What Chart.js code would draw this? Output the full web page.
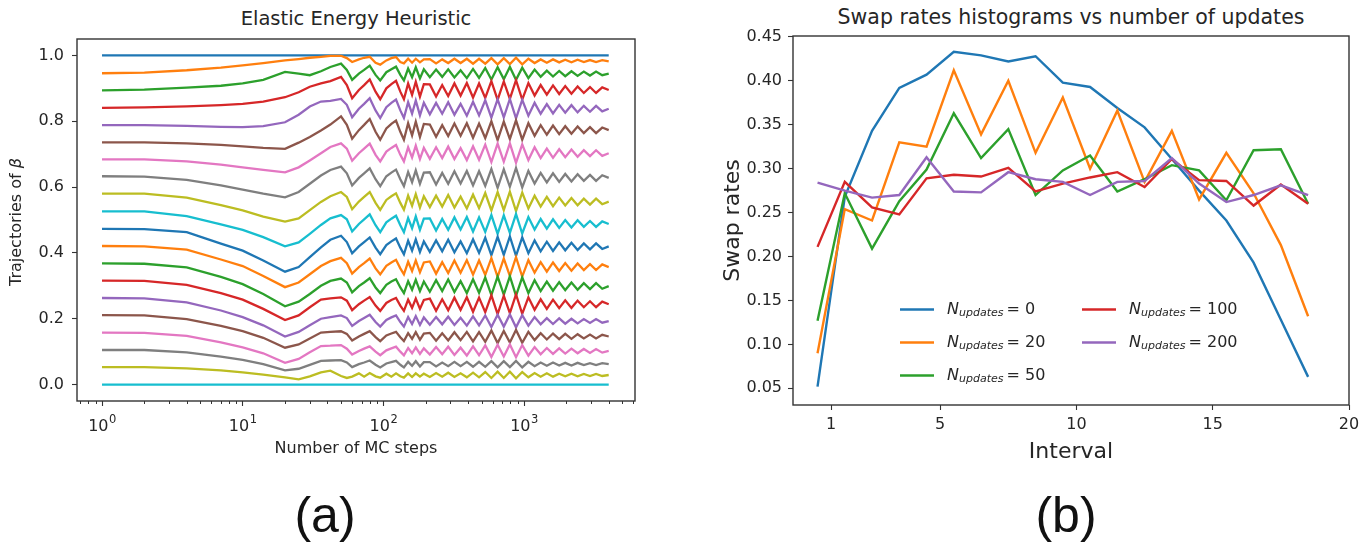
<!DOCTYPE html>
<html>
<head>
<meta charset="utf-8">
<script src="https://cdn.jsdelivr.net/npm/chart.js@4.4.1/dist/chart.umd.min.js"></script>
<style>
  body { margin: 0; background: #fff; width: 1370px; height: 543px; position: relative; overflow: hidden; font-family: 'DejaVu Sans', sans-serif; }
  .box { position: absolute; }
  .title { position: absolute; color: #262626; white-space: nowrap; transform: translate(-50%, -50%); }
  .panel { position: absolute; font-family: 'Liberation Sans', Arial, sans-serif; font-size: 50px; color: #111; transform: translate(-50%, -50%); }
</style>
</head>
<body>
<div class="title" style="left:356px;top:18px;font-size:19.5px">Elastic Energy Heuristic</div>
<div class="title" style="left:1071px;top:17px;font-size:20.5px">Swap rates histograms vs number of updates</div>
<div class="box" style="left:0;top:0;width:660px;height:470px"><canvas id="chartA" width="660" height="470"></canvas></div>
<div class="box" style="left:690px;top:0;width:680px;height:470px"><canvas id="chartB" width="680" height="470"></canvas></div>
<div class="panel" style="left:325px;top:515px">(a)</div>
<div class="panel" style="left:1066px;top:515px">(b)</div>
<script>
    // ---- panel (a): trajectories of beta vs MC steps ----
    const mcSteps = [1, 2, 4, 7, 10, 14, 20, 25, 30, 36, 42,
        50, 55, 60, 67, 73, 80, 88, 95, 105, 114, 123, 132, 140, 150, 160, 170, 182, 194,
        214, 237, 262, 289, 320, 354, 392, 434, 479, 530, 586, 649, 718, 793, 877, 971,
        1074, 1189, 1313, 1452, 1607, 1778, 1963, 2173, 2404, 2661, 2944, 3251, 3597, 4000];
    const edgeSteps = [1, 4000];

    const betaTop = [1.0, 1.0];
    const beta01 = [0.946, 0.948, 0.955, 0.963, 0.970, 0.977, 0.985, 0.989, 0.993, 0.996, 0.999,
        0.999, 0.992, 0.980, 0.988, 0.993, 0.996, 0.978, 0.972, 0.985, 0.992, 0.995, 0.980, 0.976, 0.990, 0.978, 0.990, 0.979, 0.988,
        0.989, 0.976, 0.988, 0.977, 0.990, 0.977, 0.990, 0.975, 0.990, 0.975, 0.992, 0.973, 0.992, 0.974, 0.993, 0.973, 0.990, 0.977, 0.988, 0.978, 0.988, 0.979, 0.987, 0.979, 0.987, 0.980, 0.986, 0.980, 0.986, 0.982];
    const beta02 = [0.894, 0.896, 0.902, 0.908, 0.915, 0.926, 0.950, 0.945, 0.940, 0.952, 0.965,
        0.975, 0.956, 0.926, 0.945, 0.956, 0.969, 0.941, 0.924, 0.949, 0.958, 0.966, 0.941, 0.924, 0.960, 0.934, 0.964, 0.930, 0.958,
        0.934, 0.957, 0.935, 0.958, 0.933, 0.955, 0.931, 0.959, 0.932, 0.962, 0.927, 0.964, 0.928, 0.965, 0.926, 0.963, 0.931, 0.957, 0.935, 0.954, 0.936, 0.953, 0.937, 0.952, 0.938, 0.951, 0.939, 0.951, 0.940, 0.945];
    const beta03 = [0.841, 0.842, 0.845, 0.849, 0.853, 0.860, 0.873, 0.888, 0.905, 0.915, 0.922,
        0.935, 0.910, 0.870, 0.895, 0.910, 0.927, 0.890, 0.867, 0.900, 0.913, 0.923, 0.890, 0.867, 0.915, 0.880, 0.920, 0.875, 0.913,
        0.912, 0.875, 0.910, 0.877, 0.915, 0.878, 0.916, 0.872, 0.915, 0.871, 0.922, 0.865, 0.921, 0.868, 0.925, 0.866, 0.916, 0.878, 0.910, 0.881, 0.909, 0.883, 0.907, 0.884, 0.906, 0.886, 0.904, 0.886, 0.903, 0.895];
    const beta04 = [0.788, 0.788, 0.786, 0.783, 0.782, 0.785, 0.797, 0.820, 0.845, 0.860, 0.862,
        0.868, 0.850, 0.812, 0.838, 0.853, 0.870, 0.833, 0.810, 0.843, 0.856, 0.866, 0.833, 0.810, 0.858, 0.823, 0.863, 0.818, 0.856,
        0.821, 0.856, 0.823, 0.858, 0.820, 0.853, 0.817, 0.859, 0.818, 0.864, 0.811, 0.867, 0.812, 0.868, 0.809, 0.865, 0.817, 0.856, 0.823, 0.852, 0.824, 0.850, 0.826, 0.849, 0.827, 0.847, 0.829, 0.847, 0.830, 0.838];
    const beta05 = [0.736, 0.736, 0.733, 0.728, 0.724, 0.719, 0.716, 0.735, 0.752, 0.772, 0.790,
        0.815, 0.789, 0.747, 0.773, 0.789, 0.807, 0.768, 0.744, 0.778, 0.792, 0.802, 0.768, 0.744, 0.794, 0.757, 0.799, 0.752, 0.792,
        0.790, 0.753, 0.788, 0.755, 0.793, 0.756, 0.794, 0.750, 0.793, 0.749, 0.800, 0.743, 0.799, 0.746, 0.803, 0.744, 0.794, 0.756, 0.788, 0.759, 0.787, 0.761, 0.785, 0.762, 0.784, 0.764, 0.782, 0.764, 0.781, 0.773];
    const beta06 = [0.684, 0.684, 0.678, 0.668, 0.660, 0.652, 0.645, 0.660, 0.681, 0.703, 0.722,
        0.733, 0.717, 0.680, 0.703, 0.717, 0.732, 0.698, 0.678, 0.708, 0.719, 0.728, 0.698, 0.678, 0.721, 0.690, 0.726, 0.685, 0.719,
        0.686, 0.721, 0.688, 0.723, 0.685, 0.718, 0.682, 0.724, 0.683, 0.729, 0.676, 0.732, 0.677, 0.733, 0.674, 0.730, 0.682, 0.721, 0.688, 0.717, 0.689, 0.715, 0.691, 0.714, 0.692, 0.712, 0.694, 0.712, 0.695, 0.703];
    const beta07 = [0.633, 0.632, 0.622, 0.605, 0.592, 0.580, 0.569, 0.585, 0.610, 0.635, 0.652,
        0.662, 0.642, 0.605, 0.628, 0.642, 0.657, 0.624, 0.603, 0.633, 0.644, 0.653, 0.624, 0.603, 0.646, 0.615, 0.651, 0.610, 0.644,
        0.645, 0.608, 0.643, 0.610, 0.648, 0.611, 0.649, 0.605, 0.648, 0.604, 0.655, 0.598, 0.654, 0.601, 0.658, 0.599, 0.649, 0.611, 0.643, 0.614, 0.642, 0.616, 0.640, 0.617, 0.639, 0.619, 0.637, 0.619, 0.636, 0.628];
    const beta08 = [0.580, 0.580, 0.568, 0.545, 0.529, 0.510, 0.495, 0.505, 0.530, 0.555, 0.572,
        0.585, 0.570, 0.533, 0.556, 0.570, 0.585, 0.552, 0.531, 0.561, 0.572, 0.581, 0.552, 0.531, 0.574, 0.543, 0.579, 0.538, 0.572,
        0.539, 0.574, 0.541, 0.576, 0.538, 0.571, 0.535, 0.577, 0.536, 0.582, 0.529, 0.585, 0.530, 0.586, 0.527, 0.583, 0.535, 0.574, 0.541, 0.570, 0.542, 0.568, 0.544, 0.567, 0.545, 0.565, 0.547, 0.565, 0.548, 0.556];
    const beta09 = [0.526, 0.526, 0.512, 0.487, 0.470, 0.448, 0.420, 0.432, 0.458, 0.485, 0.505,
        0.515, 0.502, 0.465, 0.488, 0.502, 0.517, 0.484, 0.463, 0.493, 0.504, 0.513, 0.484, 0.463, 0.506, 0.475, 0.511, 0.470, 0.504,
        0.505, 0.468, 0.503, 0.470, 0.508, 0.471, 0.509, 0.465, 0.508, 0.464, 0.515, 0.458, 0.514, 0.461, 0.518, 0.459, 0.509, 0.471, 0.503, 0.474, 0.502, 0.476, 0.500, 0.477, 0.499, 0.479, 0.497, 0.479, 0.496, 0.488];
    const beta10 = [0.473, 0.472, 0.463, 0.428, 0.407, 0.377, 0.343, 0.357, 0.387, 0.417, 0.440,
        0.452, 0.433, 0.399, 0.420, 0.433, 0.447, 0.416, 0.396, 0.424, 0.435, 0.444, 0.416, 0.396, 0.437, 0.407, 0.441, 0.403, 0.435,
        0.403, 0.438, 0.405, 0.440, 0.402, 0.435, 0.399, 0.441, 0.400, 0.446, 0.393, 0.449, 0.394, 0.450, 0.391, 0.447, 0.399, 0.438, 0.405, 0.434, 0.406, 0.432, 0.408, 0.431, 0.409, 0.429, 0.411, 0.429, 0.412, 0.420];
    const beta11 = [0.421, 0.420, 0.410, 0.380, 0.360, 0.330, 0.296, 0.310, 0.335, 0.360, 0.375,
        0.385, 0.369, 0.337, 0.357, 0.369, 0.383, 0.353, 0.335, 0.361, 0.371, 0.379, 0.353, 0.335, 0.373, 0.345, 0.377, 0.341, 0.371,
        0.374, 0.337, 0.372, 0.339, 0.377, 0.340, 0.378, 0.334, 0.377, 0.333, 0.384, 0.327, 0.383, 0.330, 0.387, 0.328, 0.378, 0.340, 0.372, 0.343, 0.371, 0.345, 0.369, 0.346, 0.368, 0.348, 0.366, 0.348, 0.365, 0.357];
    const beta12 = [0.368, 0.367, 0.356, 0.327, 0.305, 0.275, 0.238, 0.252, 0.275, 0.300, 0.315,
        0.322, 0.310, 0.280, 0.299, 0.310, 0.323, 0.295, 0.278, 0.303, 0.313, 0.320, 0.295, 0.278, 0.314, 0.288, 0.318, 0.284, 0.313,
        0.282, 0.317, 0.284, 0.319, 0.281, 0.314, 0.278, 0.320, 0.279, 0.325, 0.272, 0.328, 0.273, 0.329, 0.270, 0.326, 0.278, 0.317, 0.284, 0.313, 0.285, 0.311, 0.287, 0.310, 0.288, 0.308, 0.290, 0.308, 0.291, 0.299];
    const beta13 = [0.316, 0.315, 0.303, 0.278, 0.258, 0.230, 0.196, 0.210, 0.235, 0.258, 0.262,
        0.265, 0.255, 0.226, 0.244, 0.255, 0.266, 0.240, 0.224, 0.248, 0.257, 0.263, 0.240, 0.224, 0.258, 0.233, 0.261, 0.230, 0.257,
        0.261, 0.224, 0.259, 0.226, 0.264, 0.227, 0.265, 0.221, 0.264, 0.220, 0.271, 0.214, 0.270, 0.217, 0.274, 0.215, 0.265, 0.227, 0.259, 0.230, 0.258, 0.232, 0.256, 0.233, 0.255, 0.235, 0.253, 0.235, 0.252, 0.244];
    const beta14 = [0.263, 0.262, 0.250, 0.225, 0.205, 0.180, 0.146, 0.160, 0.180, 0.200, 0.205,
        0.210, 0.202, 0.178, 0.193, 0.202, 0.212, 0.190, 0.176, 0.196, 0.204, 0.210, 0.190, 0.176, 0.205, 0.184, 0.208, 0.181, 0.204,
        0.182, 0.205, 0.183, 0.206, 0.181, 0.203, 0.179, 0.207, 0.180, 0.210, 0.175, 0.212, 0.176, 0.213, 0.174, 0.211, 0.179, 0.205, 0.183, 0.202, 0.184, 0.201, 0.185, 0.200, 0.186, 0.199, 0.187, 0.199, 0.188, 0.193];
    const beta15 = [0.211, 0.210, 0.199, 0.178, 0.162, 0.142, 0.112, 0.122, 0.140, 0.158, 0.160,
        0.162, 0.154, 0.134, 0.146, 0.154, 0.162, 0.144, 0.132, 0.149, 0.155, 0.160, 0.144, 0.132, 0.156, 0.139, 0.159, 0.136, 0.155,
        0.157, 0.133, 0.156, 0.134, 0.159, 0.135, 0.160, 0.131, 0.159, 0.130, 0.164, 0.126, 0.163, 0.128, 0.166, 0.127, 0.160, 0.135, 0.156, 0.137, 0.155, 0.138, 0.154, 0.139, 0.153, 0.140, 0.152, 0.140, 0.151, 0.146];
    const beta16 = [0.158, 0.157, 0.148, 0.128, 0.113, 0.095, 0.066, 0.078, 0.098, 0.117, 0.118,
        0.120, 0.109, 0.091, 0.102, 0.109, 0.116, 0.100, 0.089, 0.104, 0.110, 0.115, 0.100, 0.089, 0.111, 0.095, 0.113, 0.093, 0.110,
        0.091, 0.114, 0.092, 0.115, 0.090, 0.112, 0.088, 0.116, 0.089, 0.119, 0.084, 0.121, 0.085, 0.122, 0.083, 0.120, 0.088, 0.114, 0.092, 0.111, 0.093, 0.110, 0.094, 0.109, 0.095, 0.108, 0.096, 0.108, 0.097, 0.102];
    const beta17 = [0.105, 0.105, 0.098, 0.085, 0.075, 0.062, 0.043, 0.048, 0.060, 0.072, 0.073,
        0.074, 0.067, 0.053, 0.062, 0.067, 0.073, 0.060, 0.052, 0.064, 0.068, 0.072, 0.060, 0.052, 0.069, 0.057, 0.071, 0.055, 0.068,
        0.068, 0.055, 0.067, 0.056, 0.069, 0.056, 0.069, 0.054, 0.069, 0.054, 0.071, 0.052, 0.071, 0.053, 0.072, 0.052, 0.069, 0.056, 0.067, 0.057, 0.067, 0.058, 0.066, 0.058, 0.066, 0.059, 0.065, 0.059, 0.065, 0.062];
    const beta18 = [0.053, 0.053, 0.049, 0.043, 0.037, 0.030, 0.022, 0.016, 0.025, 0.037, 0.042,
        0.026, 0.020, 0.024, 0.034, 0.024, 0.035, 0.025, 0.021, 0.033, 0.024, 0.034, 0.025, 0.021, 0.034, 0.023, 0.034, 0.024, 0.033,
        0.023, 0.035, 0.024, 0.036, 0.023, 0.034, 0.022, 0.036, 0.022, 0.038, 0.020, 0.039, 0.020, 0.039, 0.019, 0.038, 0.022, 0.035, 0.024, 0.034, 0.024, 0.033, 0.025, 0.033, 0.025, 0.032, 0.026, 0.032, 0.026, 0.029];
    const betaBottom = [0.0, 0.0];

    const decadeTicks = [1, 10, 100, 1000];
    const decadeExponents = ['0', '1', '2', '3'];
    const minorSteps = [0.7, 0.8, 0.9, 2, 3, 4, 5, 6, 7, 8, 9, 20, 30, 40, 50, 60, 70, 80, 90,
        200, 300, 400, 500, 600, 700, 800, 900, 2000, 3000, 4000, 5000, 6000];
    const betaTicks = [0.0, 0.2, 0.4, 0.6, 0.8, 1.0];

    // ---- panel (b): swap rates per interval ----
    const intervals = [0.5, 1.5, 2.5, 3.5, 4.5, 5.5, 6.5, 7.5, 8.5, 9.5, 10.5, 11.5, 12.5, 13.5, 14.5, 15.5, 16.5, 17.5, 18.5];
    const updateCounts = ['0', '20', '50', '100', '200'];
    const swap0   = [0.052, 0.268, 0.343, 0.392, 0.407, 0.433, 0.429, 0.422, 0.428, 0.398, 0.393, 0.369, 0.347, 0.311, 0.275, 0.241, 0.193, 0.128, 0.063];
    const swap20  = [0.090, 0.254, 0.241, 0.330, 0.325, 0.412, 0.339, 0.400, 0.318, 0.381, 0.300, 0.366, 0.285, 0.343, 0.265, 0.318, 0.272, 0.213, 0.132];
    const swap50  = [0.127, 0.272, 0.209, 0.263, 0.299, 0.363, 0.312, 0.345, 0.270, 0.298, 0.315, 0.274, 0.288, 0.304, 0.298, 0.264, 0.321, 0.322, 0.260];
    const swap100 = [0.211, 0.285, 0.256, 0.248, 0.289, 0.293, 0.291, 0.301, 0.274, 0.283, 0.290, 0.296, 0.279, 0.311, 0.287, 0.286, 0.258, 0.282, 0.260];
    const swap200 = [0.284, 0.275, 0.267, 0.270, 0.313, 0.274, 0.273, 0.296, 0.288, 0.285, 0.270, 0.285, 0.286, 0.312, 0.283, 0.262, 0.270, 0.281, 0.270];
    const intervalTicks = [1, 5, 10, 15, 20];
    const swapTicks = [0.05, 0.10, 0.15, 0.20, 0.25, 0.30, 0.35, 0.40, 0.45];

    const tab10 = ['#1f77b4', '#ff7f0e', '#2ca02c', '#d62728', '#9467bd', '#8c564b', '#e377c2', '#7f7f7f', '#bcbd22', '#17becf'];
    const textColor = '#262626';
    const axisColor = '#333';
    const fontFamily = "'DejaVu Sans', sans-serif";

    // box around the plotting area (all four spines)
    const frame = {
        id: 'frame',
        afterDatasetsDraw(chart) {
            const a = chart.chartArea, c = chart.ctx;
            c.save();
            c.strokeStyle = axisColor;
            c.lineWidth = 1.4;
            c.strokeRect(a.left, a.top, a.right - a.left, a.bottom - a.top);
            c.restore();
        }
    };

    // log axis extras: short minor ticks, 10^n labels, y title with italic beta
    const logAxisExtras = {
        id: 'logAxisExtras',
        afterDraw(chart) {
            const s = chart.scales.x, c = chart.ctx, a = chart.chartArea;
            c.save();
            c.strokeStyle = axisColor;
            c.lineWidth = 1;
            minorSteps.forEach(v => {
                const x = Math.round(s.getPixelForValue(v)) + 0.5;
                c.beginPath();
                c.moveTo(x, a.bottom);
                c.lineTo(x, a.bottom + 3);
                c.stroke();
            });

            c.fillStyle = textColor;
            c.textBaseline = 'alphabetic';
            c.textAlign = 'left';
            decadeTicks.forEach((v, i) => {
                const x = s.getPixelForValue(v);
                c.font = "16px 'DejaVu Sans'";
                const wBase = c.measureText('10').width;
                c.font = "11.5px 'DejaVu Sans'";
                const wExp = c.measureText(decadeExponents[i]).width;
                const x0 = x - (wBase + wExp) / 2;
                c.font = "16px 'DejaVu Sans'";
                c.fillText('10', x0, a.bottom + 30);
                c.font = "11.5px 'DejaVu Sans'";
                c.fillText(decadeExponents[i], x0 + wBase + 0.5, a.bottom + 22);
            });

            c.translate(17, (a.top + a.bottom) / 2 + 2);
            c.rotate(-Math.PI / 2);
            c.textBaseline = 'middle';
            c.font = "16px 'DejaVu Sans'";
            const head = 'Trajectories of ';
            const wHead = c.measureText(head).width;
            c.font = "italic 16px 'DejaVu Sans'";
            const wBeta = c.measureText('β').width;
            const start = -(wHead + wBeta) / 2;
            c.font = "16px 'DejaVu Sans'";
            c.fillText(head, start, 0);
            c.font = "italic 16px 'DejaVu Sans'";
            c.fillText('β', start + wHead, 0);
            c.restore();
        }
    };

    function axisStyle(size, pad, tick) {
        return {
            ticks: { font: { family: fontFamily, size: size }, color: textColor, padding: pad, autoSkip: false, maxRotation: 0 },
            grid: { display: true, drawOnChartArea: false, drawTicks: true, tickLength: tick, tickColor: axisColor, tickWidth: 1.1 },
            border: { display: false }
        };
    }

    // ---- chart (a) ----
    const betaSeries = [betaTop, beta01, beta02, beta03, beta04, beta05, beta06, beta07, beta08, beta09,
        beta10, beta11, beta12, beta13, beta14, beta15, beta16, beta17, beta18, betaBottom];

    const datasetsA = betaSeries.map((vals, i) => {
        const steps = vals.length === 2 ? edgeSteps : mcSteps;
        return {
            data: vals.map((v, k) => ({ x: steps[k], y: v })),
            borderColor: tab10[i % 10],
            borderWidth: 2.3,
            pointRadius: 0,
            fill: false,
            order: -i
        };
    });

    const xA = axisStyle(16, 7, 5);
    xA.type = 'logarithmic';
    xA.min = 0.664;
    xA.max = 6150;
    xA.afterBuildTicks = s => { s.ticks = decadeTicks.map(v => ({ value: v })); };
    xA.ticks.callback = () => '';
    xA.afterFit = s => { s.height = 69; };
    xA.title = { display: true, text: 'Number of MC steps', color: textColor, font: { family: fontFamily, size: 16 }, padding: { top: 0, bottom: 12 } };

    const yA = axisStyle(16, 8, 5);
    yA.min = -0.05;
    yA.max = 1.05;
    yA.afterBuildTicks = s => { s.ticks = betaTicks.map(v => ({ value: v })); };
    yA.ticks.callback = v => v.toFixed(1);
    yA.afterFit = s => { s.width = 77; };

    new Chart(document.getElementById('chartA').getContext('2d'), {
        type: 'line',
        data: { datasets: datasetsA },
        options: {
            responsive: false,
            animation: false,
            events: [],
            layout: { padding: { top: 39, right: 25, left: 0, bottom: 0 } },
            plugins: { legend: { display: false }, tooltip: { enabled: false } },
            scales: { x: xA, y: yA }
        },
        plugins: [frame, logAxisExtras]
    });

    // ---- chart (b) ----
    const swapSeries = [swap0, swap20, swap50, swap100, swap200];
    const datasetsB = swapSeries.map((vals, i) => ({
        label: updateCounts[i],
        data: vals.map((v, k) => ({ x: intervals[k], y: v })),
        borderColor: tab10[i],
        borderWidth: 2.4,
        pointRadius: 0,
        fill: false,
        order: -i
    }));

    // legend with N_updates written as math (subscript)
    const mathLegend = {
        id: 'mathLegend',
        afterDraw(chart) {
            const a = chart.chartArea, c = chart.ctx;
            const cols = [a.left + 107, a.left + 289];
            const rows = [a.top + 273.5, a.top + 306.5, a.top + 339.5];
            c.save();
            chart.data.datasets.forEach((ds, i) => {
                const x = cols[Math.floor(i / 3)];
                const y = rows[i % 3];
                c.strokeStyle = ds.borderColor;
                c.lineWidth = 2.4;
                c.beginPath();
                c.moveTo(x, y);
                c.lineTo(x + 34, y);
                c.stroke();
                let tx = x + 47;
                c.fillStyle = textColor;
                c.textBaseline = 'middle';
                c.textAlign = 'left';
                c.font = "italic 16px 'DejaVu Sans'";
                c.fillText('N', tx, y);
                tx += c.measureText('N').width;
                c.font = "italic 11px 'DejaVu Sans'";
                c.fillText('updates', tx, y + 4);
                tx += c.measureText('updates').width + 3;
                c.font = "16px 'DejaVu Sans'";
                c.fillText('= ' + ds.label, tx, y);
            });
            c.restore();
        }
    };

    const xB = axisStyle(16, 5, 5);
    xB.type = 'linear';
    xB.min = -0.4;
    xB.max = 20;
    xB.afterBuildTicks = s => { s.ticks = intervalTicks.map(v => ({ value: v })); };
    xB.ticks.callback = v => String(v);
    xB.afterFit = s => { s.height = 65; };
    xB.title = { display: true, text: 'Interval', color: textColor, font: { family: fontFamily, size: 22 }, padding: { top: 0, bottom: 5 } };

    const yB = axisStyle(16, 6, 5);
    yB.min = 0.031;
    yB.max = 0.451;
    yB.afterBuildTicks = s => { s.ticks = swapTicks.map(v => ({ value: v })); };
    yB.ticks.callback = v => v.toFixed(2);
    yB.afterFit = s => { s.width = 103; };
    yB.title = { display: true, text: 'Swap rates', color: textColor, font: { family: fontFamily, size: 22 }, padding: { top: 30, bottom: 0 } };

    new Chart(document.getElementById('chartB').getContext('2d'), {
        type: 'line',
        data: { datasets: datasetsB },
        options: {
            responsive: false,
            animation: false,
            events: [],
            layout: { padding: { top: 36, right: 21, left: 0, bottom: 0 } },
            plugins: { legend: { display: false }, tooltip: { enabled: false } },
            scales: { x: xB, y: yB }
        },
        plugins: [frame, mathLegend]
    });
</script>
</body>
</html>
